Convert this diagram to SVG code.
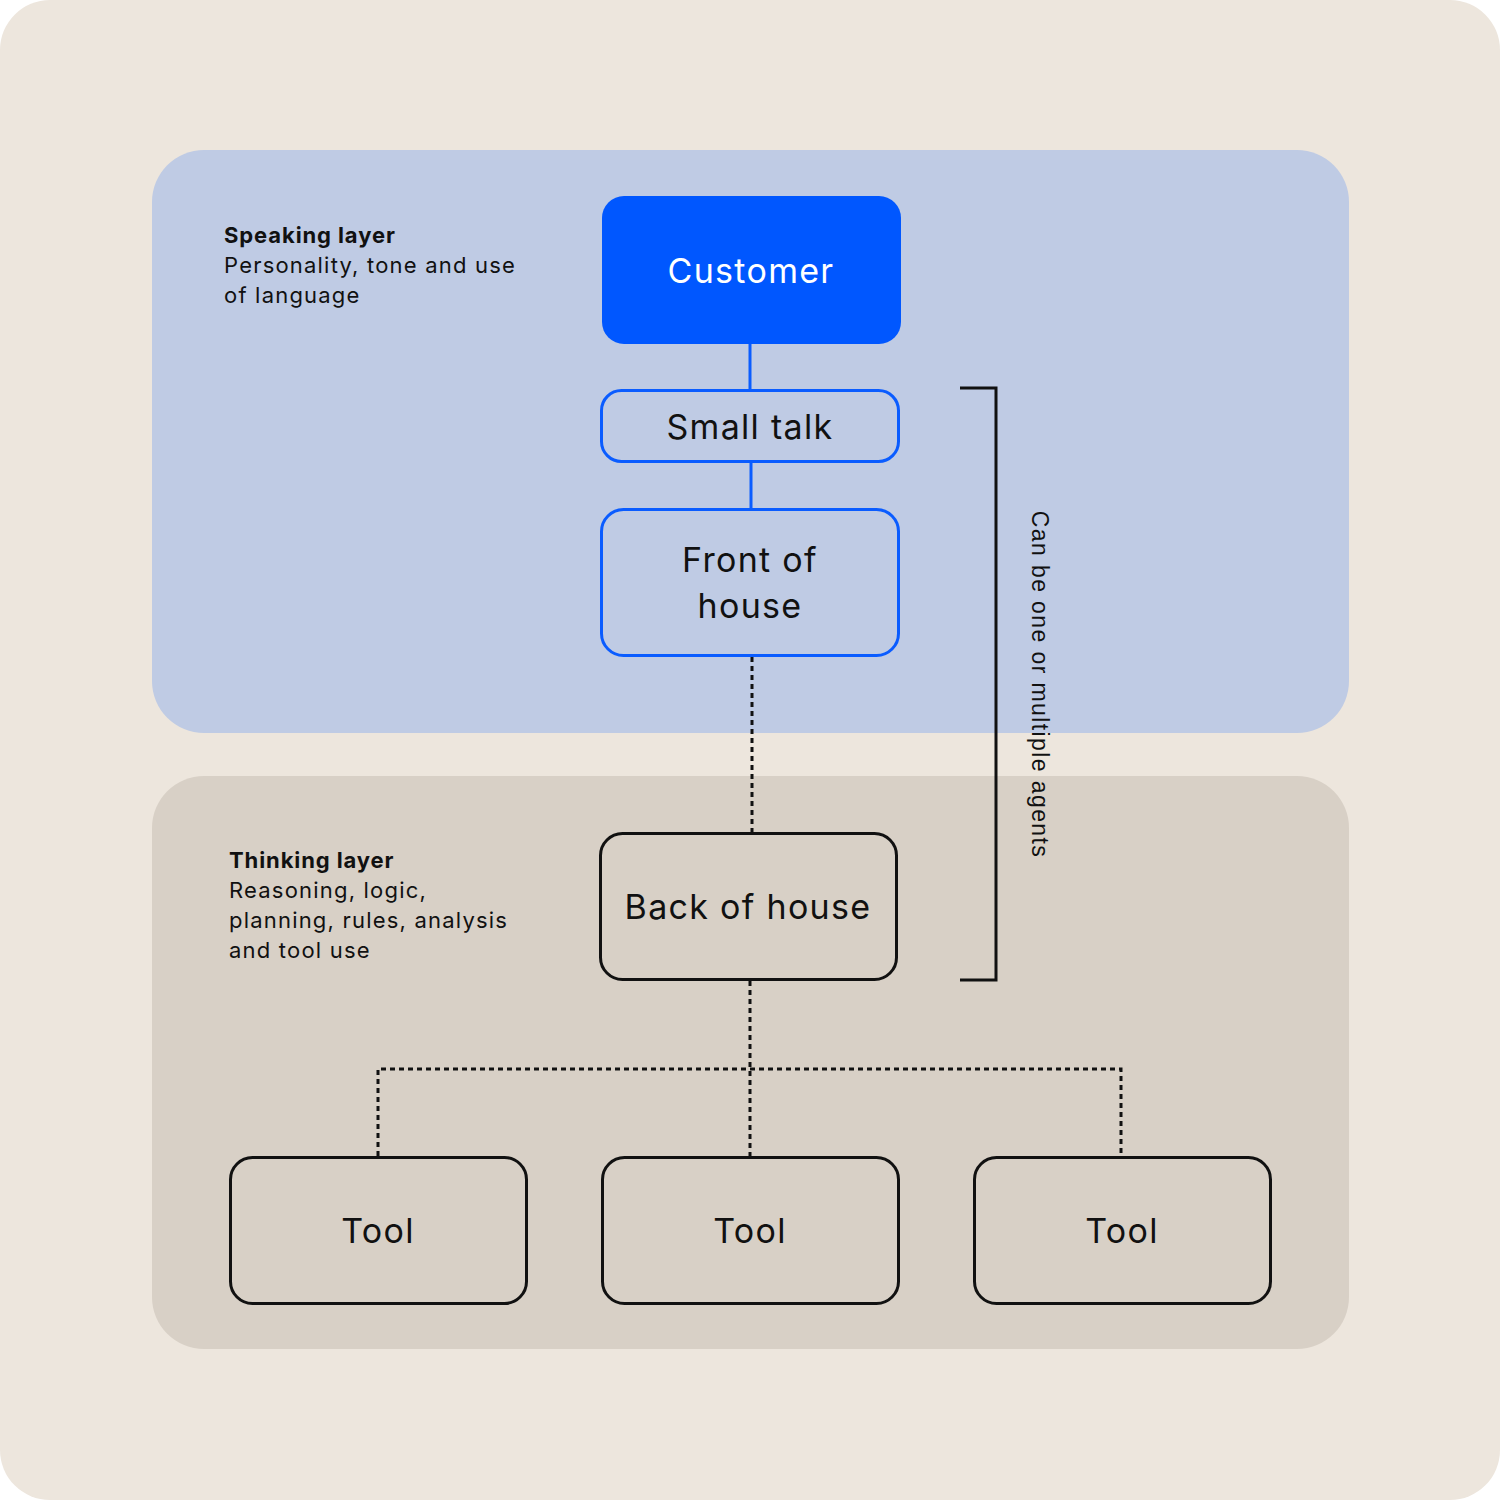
<svg xmlns="http://www.w3.org/2000/svg" width="1500" height="1500" viewBox="0 0 1500 1500">
<style>
.t{font-family:Inter,"Noto Sans","Liberation Sans",sans-serif;fill:#111}
.node{font-size:34px;text-anchor:middle;letter-spacing:1.3px}
.lbl{font-size:22px;letter-spacing:1.2px}
.blue{fill:none;stroke:#0A5CFF;stroke-width:3}
.blk{fill:none;stroke:#111;stroke-width:3}
.dot{fill:none;stroke:#111;stroke-width:3;stroke-dasharray:5 4}
</style>
<rect x="0" y="0" width="1500" height="1500" rx="50" fill="#EDE6DD"/>
<rect x="152" y="150" width="1197" height="583" rx="52" fill="#BFCBE4"/>
<rect x="152" y="776" width="1197" height="573" rx="52" fill="#D8D0C6"/>
<g id="speaking-label">
<text class="t lbl" x="224" y="243" font-weight="700" style="letter-spacing:0.9px">Speaking layer</text>
<text class="t lbl" x="224" y="273">Personality, tone and use</text>
<text class="t lbl" x="224" y="303">of language</text>
</g>
<g id="thinking-label">
<text class="t lbl" x="229" y="868" font-weight="700" style="letter-spacing:0.9px">Thinking layer</text>
<text class="t lbl" x="229" y="898">Reasoning, logic,</text>
<text class="t lbl" x="229" y="928">planning, rules, analysis</text>
<text class="t lbl" x="229" y="958">and tool use</text>
</g>
<g id="connectors">
<line x1="750" y1="344" x2="750" y2="390" stroke="#0A5CFF" stroke-width="3"/>
<line x1="751" y1="462" x2="751" y2="509" stroke="#0A5CFF" stroke-width="3"/>
<line class="dot" x1="752" y1="657" x2="752" y2="832"/>
<line class="dot" x1="750" y1="981" x2="750" y2="1156"/>
<polyline class="dot" points="378,1156 378,1069 1121,1069 1121,1156"/>
</g>
<g id="bracket">
<polyline points="960,388 996,388 996,980 960,980" fill="none" stroke="#111" stroke-width="3"/>
<text transform="translate(1032,684.5) rotate(90)" text-anchor="middle" font-family="'Liberation Sans',Arial,sans-serif" font-size="23" letter-spacing="1.4" fill="#111">Can be one or multiple agents</text>
</g>
<g id="customer">
<rect x="602" y="196" width="299" height="148" rx="22" fill="#0057FF"/>
<text class="t node" x="751" y="283" style="fill:#fff">Customer</text>
</g>
<g id="small-talk">
<rect class="blue" x="601.5" y="390.5" width="297" height="71" rx="20"/>
<text class="t node" x="750" y="439">Small talk</text>
</g>
<g id="front-of-house">
<rect class="blue" x="601.5" y="509.5" width="297" height="146" rx="22"/>
<text class="t node" x="750" y="572">Front of</text>
<text class="t node" x="750" y="618">house</text>
</g>
<g id="back-of-house">
<rect class="blk" x="600.5" y="833.5" width="296" height="146" rx="22"/>
<text class="t node" x="748" y="919">Back of house</text>
</g>
<g id="tool-1">
<rect class="blk" x="230.5" y="1157.5" width="296" height="146" rx="22"/>
<text class="t node" x="378" y="1243">Tool</text>
</g>
<g id="tool-2">
<rect class="blk" x="602.5" y="1157.5" width="296" height="146" rx="22"/>
<text class="t node" x="750" y="1243">Tool</text>
</g>
<g id="tool-3">
<rect class="blk" x="974.5" y="1157.5" width="296" height="146" rx="22"/>
<text class="t node" x="1122" y="1243">Tool</text>
</g>
</svg>
